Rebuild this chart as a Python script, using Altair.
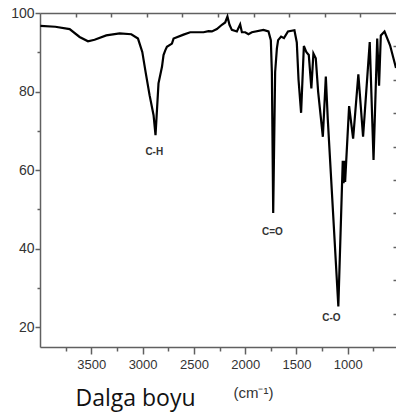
import altair as alt
import pandas as pd

# IR spectrum
wavenumber = [3996, 3851, 3711, 3614, 3532, 3468, 3354, 3224, 3110, 3045,
              3003, 2971, 2932, 2893, 2874, 2845, 2811, 2796, 2779, 2763,
              2714, 2698, 2601, 2536, 2406, 2358, 2324, 2276, 2227, 2195,
              2173, 2153, 2130, 2081, 2049, 2032, 2000, 1968, 1935, 1822,
              1773, 1750, 1740, 1727, 1708, 1691, 1679, 1650, 1622, 1583,
              1520, 1497, 1480, 1455, 1428, 1403, 1380, 1355, 1335, 1312,
              1289, 1243, 1214, 1195, 1092, 1049, 1041, 1033, 1026, 987,
              948, 897, 851, 786, 749, 713, 695, 678, 642, 588,
              530]
transmittance = [96.7, 96.5, 95.9, 93.9, 92.8, 93.2, 94.3, 94.8, 94.6, 93.5,
                 90.1, 85.0, 79.1, 74.0, 68.9, 82.1, 86.3, 89.3, 90.5, 91.4,
                 92.2, 93.5, 94.5, 95.1, 95.1, 95.4, 95.3, 95.9, 97.0, 97.6,
                 99.1, 97.0, 95.7, 95.3, 97.1, 95.1, 95.1, 94.6, 95.1, 95.7,
                 95.3, 93.1, 85.0, 49.1, 85.0, 91.0, 93.1, 94.0, 93.6, 95.3,
                 95.6, 92.5, 83.0, 74.6, 91.6, 90.0, 89.3, 80.8, 89.7, 88.5,
                 80.0, 68.5, 83.8, 73.0, 25.3, 62.4, 56.7, 62.4, 57.0, 76.3,
                 68.0, 84.4, 68.5, 92.6, 62.6, 93.5, 81.5, 94.3, 95.3, 91.8,
                 86.0]

peak_labels = ["C-H", "C=O", "C-O"]
peak_wn = [2886, 1734, 1160]
peak_t = [64.6, 44.2, 22.4]

X_DOMAIN = [4000, 530]
Y_DOMAIN = [15, 100]
x_ticks = [3750, 3500, 3250, 3000, 2750, 2500, 2250, 2000, 1750, 1500, 1250, 1000, 750]
y_ticks = [20, 30, 40, 50, 60, 70, 80, 90, 100]
top_ticks = [X_DOMAIN[0] + (X_DOMAIN[1] - X_DOMAIN[0]) * k / 10 for k in range(1, 10)]
right_ticks = [Y_DOMAIN[0] + (Y_DOMAIN[1] - Y_DOMAIN[0]) * k / 10 for k in range(1, 10)]

W, H = 356, 334
FONT = "Liberation Sans Narrow, Liberation Sans, Arial, sans-serif"
AX = "#606060"
LAB = "#333333"

spec = pd.DataFrame({"wn": wavenumber, "t": transmittance})
ann = pd.DataFrame({"label": peak_labels, "wn": peak_wn, "t": peak_t})

xs = alt.Scale(domain=X_DOMAIN, nice=False, zero=False)
ys = alt.Scale(domain=Y_DOMAIN, nice=False, zero=False)

line = alt.Chart(spec).mark_line(color="black", strokeWidth=2.2, clip=True).encode(
    x=alt.X("wn:Q", scale=xs, axis=alt.Axis(
        orient="bottom", values=x_ticks, format="d", ticks=True,
        labelExpr="datum.value % 500 === 0 ? datum.label : ''",
        tickSize={"condition": {"test": "datum.value % 500 === 0", "value": 7}, "value": 4},
        tickColor=AX, tickWidth=1.5, domainColor=AX, domainWidth=1.5, grid=False,
        labelFont=FONT, labelFontSize=13, labelColor=LAB, labelPadding=4,
        title="Dalga boyu", titleX=35, titleY=58, titleAlign="left", titleBaseline="alphabetic",
        titleFont="Open Sans", titleFontSize=23, titleFontWeight="normal", titleColor="#111111")),
    y=alt.Y("t:Q", scale=ys, axis=alt.Axis(
        orient="left", values=y_ticks, format="d", ticks=True,
        labelExpr="datum.value % 20 === 0 ? datum.label : ''",
        tickSize={"condition": {"test": "datum.value % 20 === 0", "value": 5}, "value": 3},
        tickColor=AX, tickWidth=1.5, domainColor=AX, domainWidth=1.5, grid=False,
        labelFont=FONT, labelFontSize=14, labelColor=LAB, labelPadding=1, title=None)),
)

labels = alt.Chart(ann).mark_text(font="Liberation Sans", fontSize=10, fontWeight="bold",
                                   color=LAB, baseline="middle", align="center").encode(
    x=alt.X("wn:Q", scale=xs, axis=alt.Axis(
        orient="bottom", offset=-H, values=top_ticks, labels=False, ticks=True, tickSize=4,
        tickColor=AX, tickWidth=1.5, domainColor=AX, domainWidth=1.5, grid=False,
        title="(cm⁻¹)", titleX=193, titleY=384, titleAlign="left", titleBaseline="alphabetic",
        titleFont="Liberation Sans", titleFontSize=15, titleFontWeight="normal", titleColor=LAB)),
    y=alt.Y("t:Q", scale=ys, axis=alt.Axis(
        orient="left", offset=-W, values=right_ticks, labels=False, ticks=True, tickSize=3,
        tickColor=AX, tickWidth=1.5, domain=False, grid=False, title=None)),
    text="label:N",
)

chart = alt.layer(line, labels).resolve_scale(x="independent", y="independent").properties(
    width=W, height=H, autosize="none",
    padding={"left": 40, "top": 13, "right": 0, "bottom": 72},
    background="white",
).configure_view(strokeWidth=0)

chart.save("out.html", embed_options={"renderer": "svg", "actions": False})
